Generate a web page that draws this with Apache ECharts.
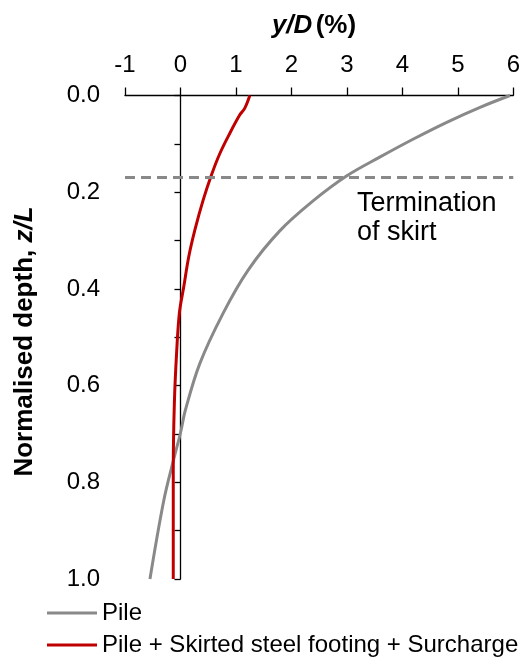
<!DOCTYPE html>
<html>
<head>
<meta charset="utf-8">
<script src="https://cdn.jsdelivr.net/npm/echarts@6/dist/echarts.min.js"></script>
<style>
  html, body { margin: 0; padding: 0; background: #fff; }
  #chart { width: 531px; height: 665px; }
</style>
</head>
<body>
<div id="chart"></div>
<script>
// x ticks (y/D %)
const xTicks = [-1, 0, 1, 2, 3, 4, 5, 6];
// y ticks (normalised depth)
const yTicks = [0.0, 0.2, 0.4, 0.6, 0.8, 1.0];

// Pile: depth z/L and deflection y/D (%)
const pileZ = [0.000, 0.0245, 0.0555, 0.090, 0.127, 0.166, 0.218, 0.280, 0.361, 0.450, 0.554, 0.650, 0.698, 0.747, 0.837, 1.000];
const pileX = [5.94, 5.40, 4.80, 4.20, 3.60, 3.00, 2.39, 1.79, 1.22, 0.77, 0.35, 0.09, 0.00, -0.11, -0.30, -0.55];

// Pile + Skirted steel footing + Surcharge
const footZ = [0.000, 0.026, 0.040, 0.078, 0.120, 0.164, 0.216, 0.278, 0.333, 0.395, 0.450, 0.533, 0.636, 0.775, 1.000];
const footX = [1.25, 1.16, 1.07, 0.89, 0.71, 0.56, 0.41, 0.26, 0.15, 0.06, -0.02, -0.07, -0.11, -0.13, -0.13];

// skirt termination depth
const skirtZ = 0.165;

const seriesNames = ['Pile', 'Pile + Skirted steel footing + Surcharge'];

const FONT = "'Liberation Sans', Arial, sans-serif";

const chart = echarts.init(document.getElementById('chart'), null, { renderer: 'canvas' });

const pileData = pileX.map((x, i) => [x, pileZ[i]]);
const footData = footX.map((x, i) => [x, footZ[i]]);

chart.setOption({
  animation: false,
  backgroundColor: '#fff',
  grid: { left: 125, right: 17.7, top: 95.5, bottom: 86, containLabel: false },
  xAxis: {
    type: 'value',
    position: 'top',
    min: xTicks[0], max: xTicks[xTicks.length - 1], interval: 1,
    axisLine: { show: true, onZero: false, lineStyle: { color: '#000', width: 1.3 } },
    axisTick: { show: true, inside: false, length: 8, lineStyle: { color: '#000', width: 1.3 } },
    axisLabel: { show: true, margin: 18, fontSize: 24, color: '#000', fontFamily: FONT },
    splitLine: { show: false }
  },
  yAxis: [
    {
      type: 'value', position: 'left', inverse: true,
      min: 0, max: 1, interval: 0.2,
      axisLine: { show: false, onZero: false },
      axisTick: { show: false },
      axisLabel: { show: true, margin: 25, fontSize: 24, color: '#000', fontFamily: FONT,
        formatter: v => v.toFixed(1) },
      splitLine: { show: false }
    },
    {
      type: 'value', position: 'left', inverse: true,
      min: 0, max: 1, interval: 0.1,
      axisLine: { show: true, onZero: true, lineStyle: { color: '#000', width: 1.3 } },
      axisTick: { show: true, inside: false, length: 6, lineStyle: { color: '#000', width: 1.3 } },
      axisLabel: { show: false },
      splitLine: { show: false }
    }
  ],
  legend: {
    data: seriesNames,
    orient: 'vertical',
    left: 42, top: 596,
    itemWidth: 50, itemHeight: 3,
    itemGap: 8,
    icon: 'rect',
    selectedMode: false,
    textStyle: { fontSize: 24, color: '#000', fontFamily: FONT, padding: [0, 0, 0, 0] }
  },
  series: [
    {
      name: seriesNames[0], type: 'line', xAxisIndex: 0, yAxisIndex: 0,
      data: pileData, showSymbol: false, smooth: 0.35,
      lineStyle: { color: '#898989', width: 3 },
      itemStyle: { color: '#898989' },
      markLine: {
        silent: true, symbol: 'none', label: { show: false },
        lineStyle: { type: [10, 6], color: '#898989', width: 3 },
        data: [{ yAxis: skirtZ }]
      },
      z: 2
    },
    {
      name: seriesNames[1], type: 'line', xAxisIndex: 0, yAxisIndex: 0,
      data: footData, showSymbol: false, smooth: 0.35,
      lineStyle: { color: '#C00000', width: 3 },
      itemStyle: { color: '#C00000' },
      z: 3
    }
  ],
  graphic: [
    {
      type: 'text', x: 314, y: 26,
      style: {
        text: '{i|y/D} {b|(%)}',
        align: 'center', verticalAlign: 'middle',
        rich: {
          i: { fontSize: 26, fontWeight: 'bold', fontStyle: 'italic', fontFamily: FONT, fill: '#000' },
          b: { fontSize: 26, fontWeight: 'bold', fontFamily: FONT, fill: '#000' }
        }
      }
    },
    {
      type: 'text', x: 25, y: 341.5, rotation: Math.PI / 2,
      style: {
        text: '{b|Normalised depth, }{i|z/L}',
        align: 'center', verticalAlign: 'middle',
        rich: {
          i: { fontSize: 26, fontWeight: 'bold', fontStyle: 'italic', fontFamily: FONT, fill: '#000' },
          b: { fontSize: 26, fontWeight: 'bold', fontFamily: FONT, fill: '#000' }
        }
      }
    },
    {
      type: 'text', x: 357, y: 189,
      style: {
        text: 'Termination\nof skirt',
        font: "27px " + FONT,
        lineHeight: 29,
        fill: '#000',
        align: 'left', verticalAlign: 'top'
      }
    }
  ]
});
</script>
</body>
</html>
